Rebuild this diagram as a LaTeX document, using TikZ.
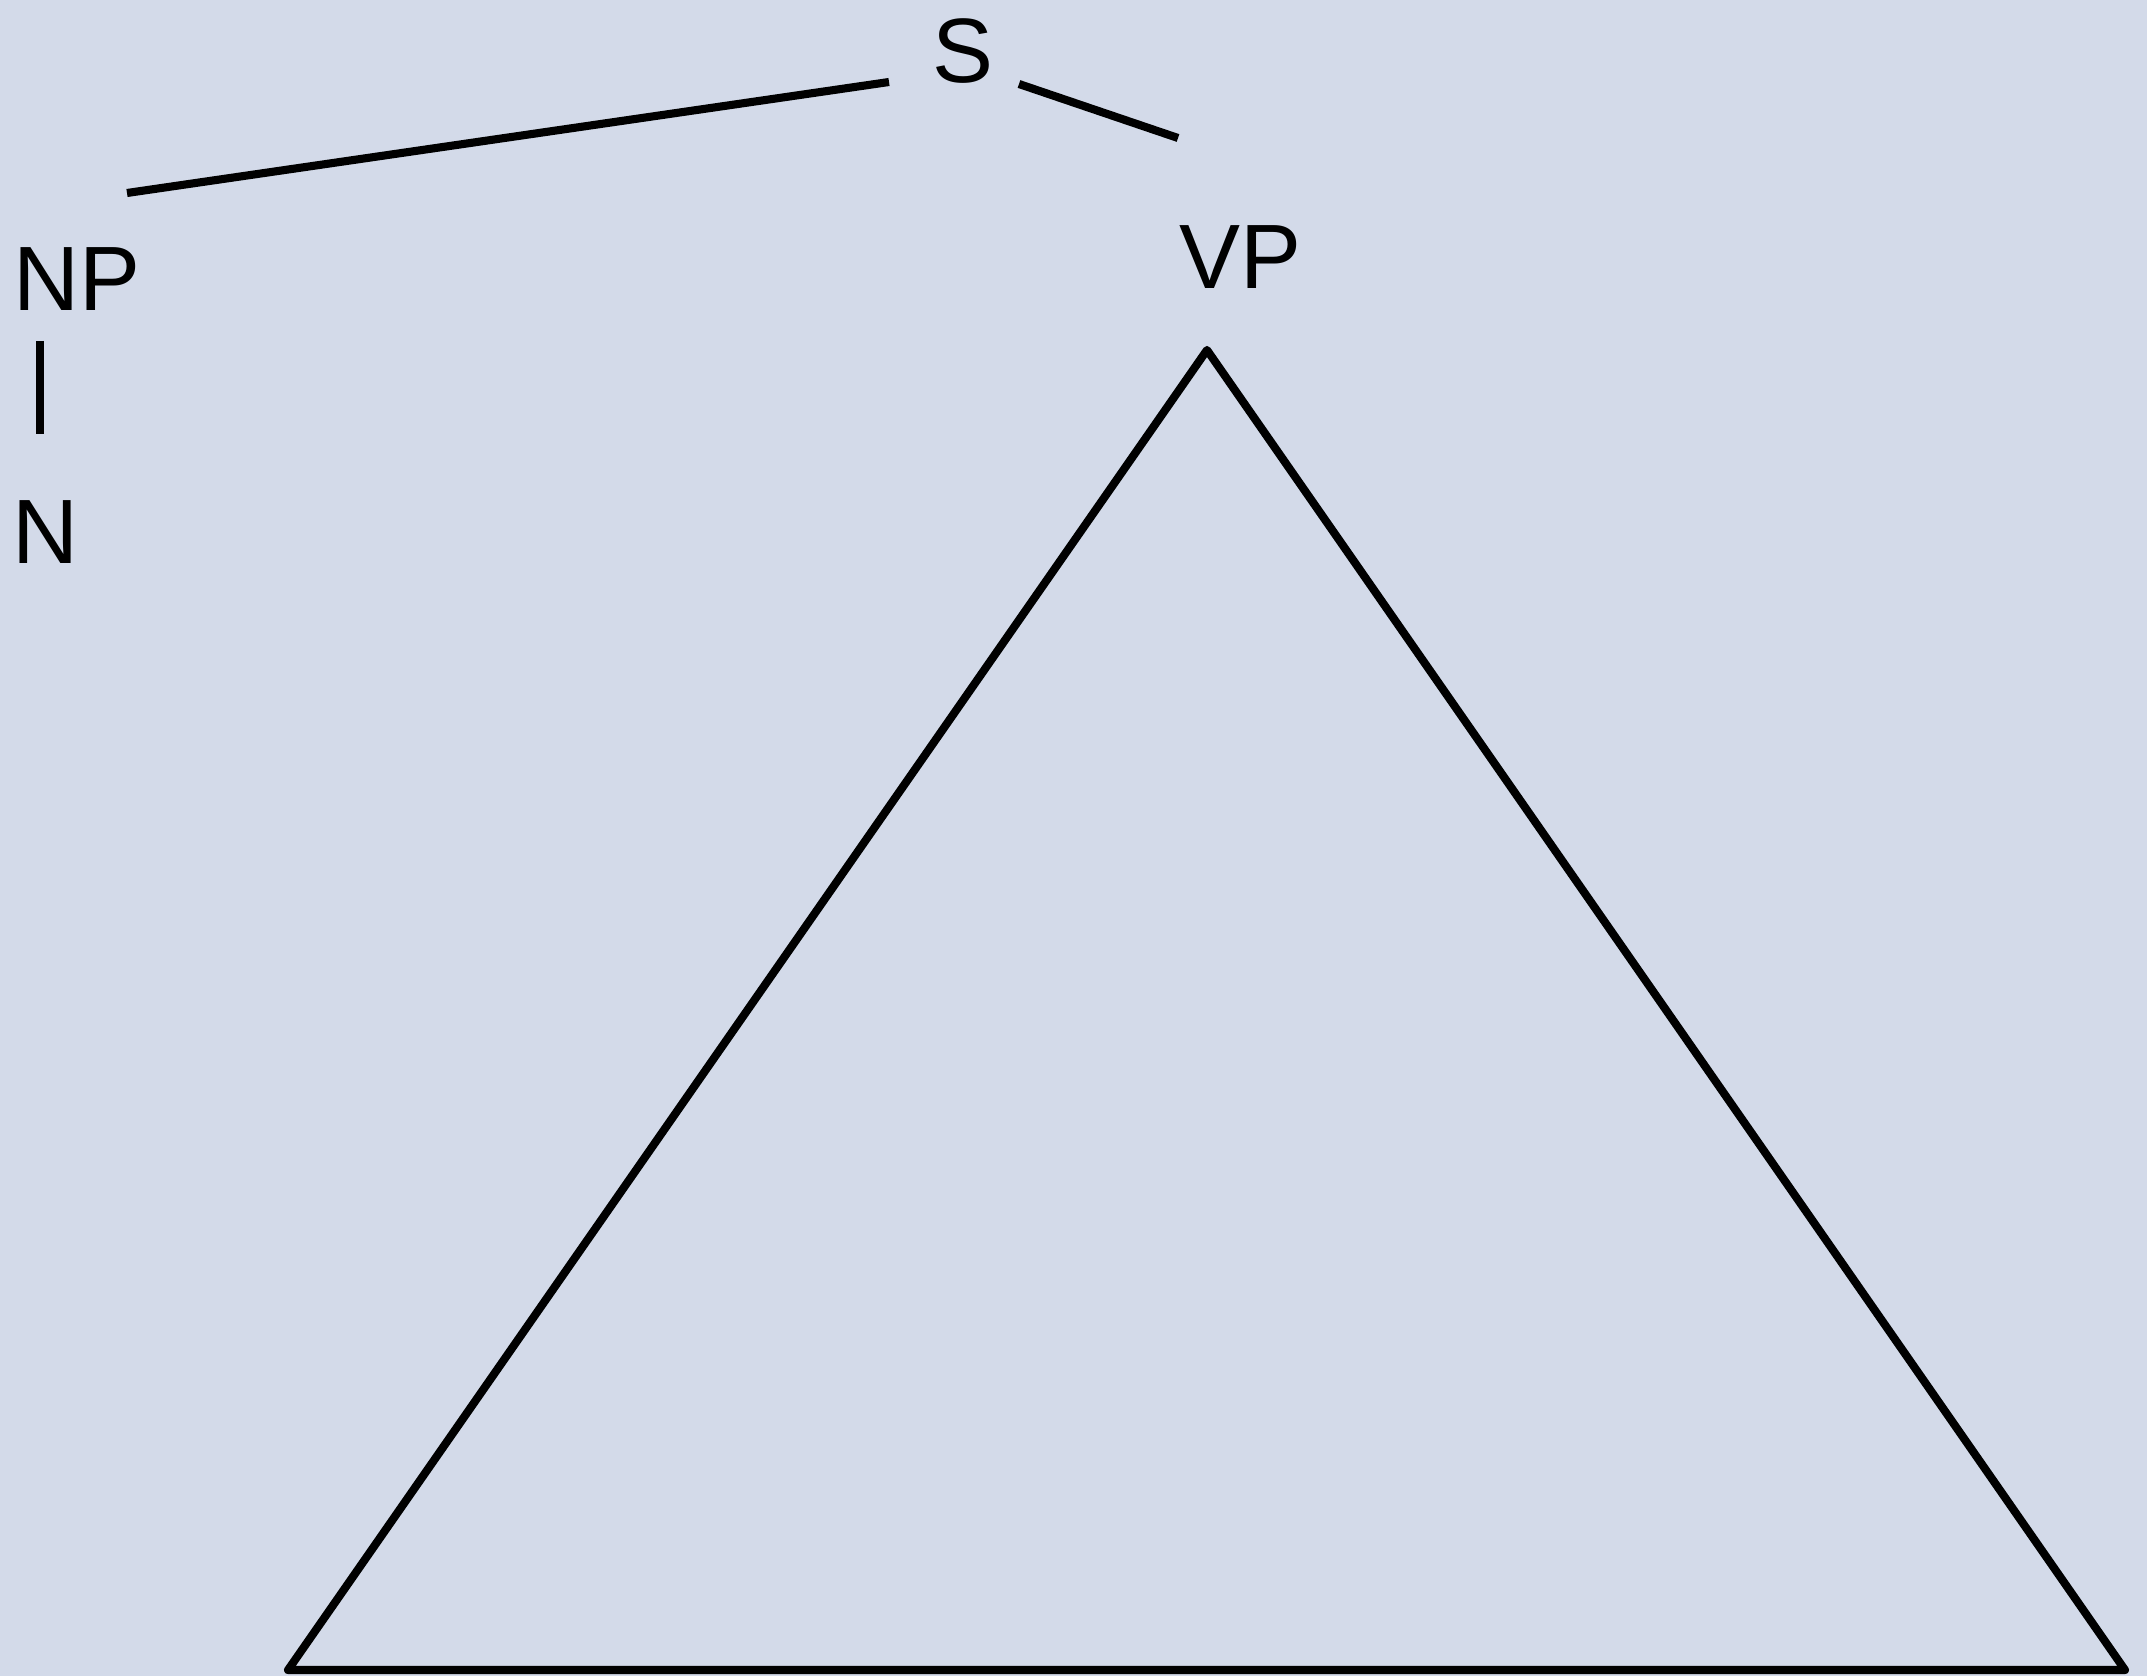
\documentclass[tikz,border=0pt]{standalone}
\usepackage{fontspec}
\setmainfont{Liberation Sans}
\usepackage{tikz}
\usetikzlibrary{positioning}
\definecolor{treebg}{RGB}{211,218,233}

\begin{document}
\begin{tikzpicture}[
    x=0.01cm, y=-0.01cm,
    % Styles
    cat/.style={inner sep=0pt, font=\fontsize{26}{30}\selectfont, text height=18.6pt, text depth=0pt},
    branch/.style={line width=2.3pt},
    roof/.style={line width=2.3pt, line join=round},
]
    % Background
    \useasboundingbox (0,0) rectangle (2147,1676);
    \fill[treebg] (0,0) rectangle (2147,1676);

    % Category labels
    \node[cat] (s) at (963, 50) {S};
    \node[cat] (np) at (77, 278) {NP};
    \node[cat] (n) at (46, 531) {N};
    \node[cat] (vp) at (1240, 256) {VP};

    % Branches
    \draw[branch] ([shift={(-74,32)}]s.center) -- ([shift={(50,-85)}]np.center);
    \draw[branch] ([shift={(56,34)}]s.center) -- ([shift={(-62,-118)}]vp.center);
    \draw[branch] ([shift={(-37,63)}]np.center) -- ([shift={(-6,-97)}]n.center);

    % Triangle under VP
    \coordinate (apex) at ([shift={(-33,94)}]vp.center);
    \coordinate (baseleft) at (288, 1670);
    \coordinate (baseright) at (2125, 1670);
    \draw[roof] (apex) -- (baseleft) -- (baseright) -- cycle;

\end{tikzpicture}
\end{document}
